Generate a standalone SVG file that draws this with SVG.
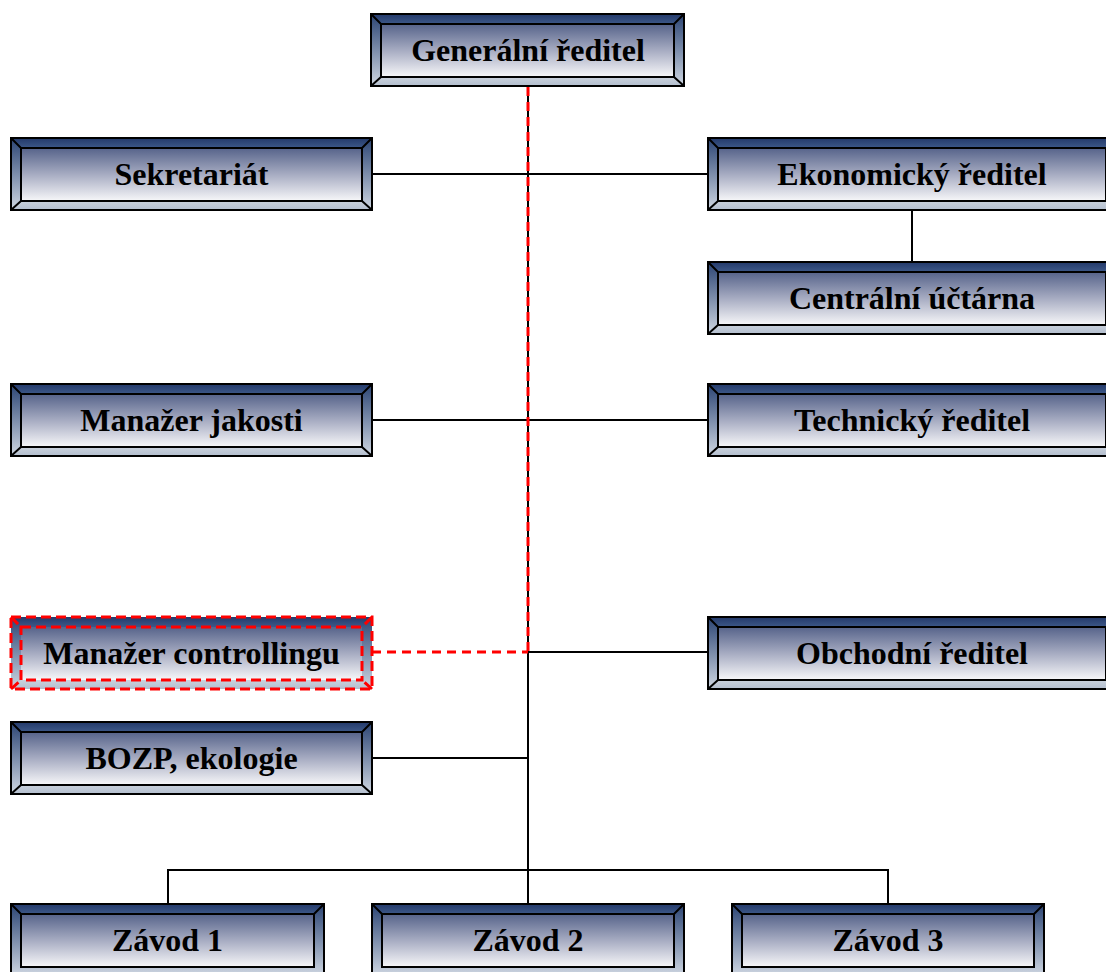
<svg xmlns="http://www.w3.org/2000/svg" width="1106" height="972" viewBox="0 0 1106 972">
  <defs>
    <linearGradient id="gRim" x1="0" y1="0" x2="0" y2="1">
      <stop offset="0" stop-color="#2b4473"/>
      <stop offset="0.55" stop-color="#8494b0"/>
      <stop offset="1" stop-color="#cfd7e2"/>
    </linearGradient>
    <linearGradient id="gTop" x1="0" y1="0" x2="0" y2="1">
      <stop offset="0" stop-color="#23396a"/>
      <stop offset="1" stop-color="#3d5888"/>
    </linearGradient>
    <linearGradient id="gBot" x1="0" y1="0" x2="0" y2="1">
      <stop offset="0" stop-color="#c9d1dc"/>
      <stop offset="1" stop-color="#b3bece"/>
    </linearGradient>
    <linearGradient id="gFace" x1="0" y1="0" x2="0" y2="1">
      <stop offset="0" stop-color="#56638a"/>
      <stop offset="0.5" stop-color="#a7acc2"/>
      <stop offset="1" stop-color="#f7f7f9"/>
    </linearGradient>
  </defs>
  <style>
    .rim { fill: url(#gRim); }
    .top { fill: url(#gTop); }
    .bot { fill: url(#gBot); }
    .face { fill: url(#gFace); }
    .edge { fill: none; stroke: #000; stroke-width: 2; }
    .edge-red { fill: none; stroke: #ff0000; stroke-width: 3; stroke-dasharray: 10 5; }
    .label { font-family: "Liberation Serif", "Times New Roman", serif; font-weight: bold; font-size: 32px; fill: #000; text-anchor: middle; }
    .wire { fill: none; stroke: #000; stroke-width: 2; }
    .wire-red { fill: none; stroke: #ff0000; stroke-width: 3; stroke-dasharray: 9 6; }
  </style>
  <rect width="1106" height="972" fill="#fff"/>

  <!-- connectors -->
  <g id="connectors">
    <line class="wire" x1="528" y1="86" x2="528" y2="870"/>
    <line class="wire" x1="372" y1="174" x2="708" y2="174"/>
    <line class="wire" x1="912" y1="211" x2="912" y2="262"/>
    <line class="wire" x1="372" y1="420" x2="708" y2="420"/>
    <line class="wire" x1="528" y1="652" x2="708" y2="652"/>
    <line class="wire" x1="372" y1="758" x2="528" y2="758"/>
    <polyline class="wire" points="168,904 168,870 888,870 888,904"/>
    <line class="wire" x1="528" y1="870" x2="528" y2="904"/>
    <line class="wire-red" x1="528" y1="87" x2="528" y2="652"/>
    <line class="wire-red" x1="372" y1="652" x2="528" y2="652"/>
  </g>

  <!-- Generální ředitel -->
  <g id="node-generalni">
    <rect class="rim" x="371" y="14" width="313" height="72"/>
    <polygon class="top" points="371,14 684,14 674,24 381,24"/>
    <polygon class="bot" points="371,86 684,86 674,77 381,77"/>
    <rect class="face" x="381" y="24" width="293" height="53"/>
    <rect class="edge" x="371" y="14" width="313" height="72"/>
    <rect class="edge" x="381" y="24" width="293" height="53"/>
    <path class="edge" d="M371,14 L381,24 M684,14 L674,24 M371,86 L381,77 M684,86 L674,77"/>
    <text class="label" x="528" y="61">Generální ředitel</text>
  </g>

  <!-- Sekretariát -->
  <g id="node-sekretariat">
    <rect class="rim" x="11" y="138" width="361" height="72"/>
    <polygon class="top" points="11,138 372,138 362,148 21,148"/>
    <polygon class="bot" points="11,210 372,210 362,201 21,201"/>
    <rect class="face" x="21" y="148" width="341" height="53"/>
    <rect class="edge" x="11" y="138" width="361" height="72"/>
    <rect class="edge" x="21" y="148" width="341" height="53"/>
    <path class="edge" d="M11,138 L21,148 M372,138 L362,148 M11,210 L21,201 M372,210 L362,201"/>
    <text class="label" x="191.5" y="185">Sekretariát</text>
  </g>

  <!-- Ekonomický ředitel -->
  <g id="node-ekonomicky">
    <rect class="rim" x="708" y="138" width="408" height="72"/>
    <polygon class="top" points="708,138 1116,138 1106,148 718,148"/>
    <polygon class="bot" points="708,210 1116,210 1106,201 718,201"/>
    <rect class="face" x="718" y="148" width="388" height="53"/>
    <rect class="edge" x="708" y="138" width="408" height="72"/>
    <rect class="edge" x="718" y="148" width="388" height="53"/>
    <path class="edge" d="M708,138 L718,148 M708,210 L718,201"/>
    <text class="label" x="912" y="185">Ekonomický ředitel</text>
  </g>

  <!-- Centrální účtárna -->
  <g id="node-uctarna">
    <rect class="rim" x="708" y="262" width="408" height="72"/>
    <polygon class="top" points="708,262 1116,262 1106,272 718,272"/>
    <polygon class="bot" points="708,334 1116,334 1106,325 718,325"/>
    <rect class="face" x="718" y="272" width="388" height="53"/>
    <rect class="edge" x="708" y="262" width="408" height="72"/>
    <rect class="edge" x="718" y="272" width="388" height="53"/>
    <path class="edge" d="M708,262 L718,272 M708,334 L718,325"/>
    <text class="label" x="912" y="309">Centrální účtárna</text>
  </g>

  <!-- Manažer jakosti -->
  <g id="node-jakost">
    <rect class="rim" x="11" y="384" width="361" height="72"/>
    <polygon class="top" points="11,384 372,384 362,394 21,394"/>
    <polygon class="bot" points="11,456 372,456 362,447 21,447"/>
    <rect class="face" x="21" y="394" width="341" height="53"/>
    <rect class="edge" x="11" y="384" width="361" height="72"/>
    <rect class="edge" x="21" y="394" width="341" height="53"/>
    <path class="edge" d="M11,384 L21,394 M372,384 L362,394 M11,456 L21,447 M372,456 L362,447"/>
    <text class="label" x="191.5" y="431">Manažer jakosti</text>
  </g>

  <!-- Technický ředitel -->
  <g id="node-technicky">
    <rect class="rim" x="708" y="384" width="408" height="72"/>
    <polygon class="top" points="708,384 1116,384 1106,394 718,394"/>
    <polygon class="bot" points="708,456 1116,456 1106,447 718,447"/>
    <rect class="face" x="718" y="394" width="388" height="53"/>
    <rect class="edge" x="708" y="384" width="408" height="72"/>
    <rect class="edge" x="718" y="394" width="388" height="53"/>
    <path class="edge" d="M708,384 L718,394 M708,456 L718,447"/>
    <text class="label" x="912" y="431">Technický ředitel</text>
  </g>

  <!-- Manažer controllingu (dashed red outline) -->
  <g id="node-controlling">
    <rect class="rim" x="11" y="617" width="361" height="72"/>
    <polygon class="top" points="11,617 372,617 362,627 21,627"/>
    <polygon class="bot" points="11,689 372,689 362,680 21,680"/>
    <rect class="face" x="21" y="627" width="341" height="53"/>
    <rect class="edge-red" x="11" y="617" width="361" height="72"/>
    <rect class="edge-red" x="21" y="627" width="341" height="53"/>
    <path class="edge-red" d="M11,617 L21,627 M372,617 L362,627 M11,689 L21,680 M372,689 L362,680"/>
    <text class="label" x="191.5" y="664">Manažer controllingu</text>
  </g>

  <!-- Obchodní ředitel -->
  <g id="node-obchodni">
    <rect class="rim" x="708" y="617" width="408" height="72"/>
    <polygon class="top" points="708,617 1116,617 1106,627 718,627"/>
    <polygon class="bot" points="708,689 1116,689 1106,680 718,680"/>
    <rect class="face" x="718" y="627" width="388" height="53"/>
    <rect class="edge" x="708" y="617" width="408" height="72"/>
    <rect class="edge" x="718" y="627" width="388" height="53"/>
    <path class="edge" d="M708,617 L718,627 M708,689 L718,680"/>
    <text class="label" x="912" y="664">Obchodní ředitel</text>
  </g>

  <!-- BOZP, ekologie -->
  <g id="node-bozp">
    <rect class="rim" x="11" y="722" width="361" height="72"/>
    <polygon class="top" points="11,722 372,722 362,732 21,732"/>
    <polygon class="bot" points="11,794 372,794 362,785 21,785"/>
    <rect class="face" x="21" y="732" width="341" height="53"/>
    <rect class="edge" x="11" y="722" width="361" height="72"/>
    <rect class="edge" x="21" y="732" width="341" height="53"/>
    <path class="edge" d="M11,722 L21,732 M372,722 L362,732 M11,794 L21,785 M372,794 L362,785"/>
    <text class="label" x="191.5" y="769">BOZP, ekologie</text>
  </g>

  <!-- Závod 1 -->
  <g id="node-zavod1">
    <rect class="rim" x="11" y="904" width="313" height="72"/>
    <polygon class="top" points="11,904 324,904 314,914 21,914"/>
    <rect class="face" x="21" y="914" width="293" height="53"/>
    <rect class="edge" x="11" y="904" width="313" height="72"/>
    <rect class="edge" x="21" y="914" width="293" height="53"/>
    <path class="edge" d="M11,904 L21,914 M324,904 L314,914"/>
    <text class="label" x="167.5" y="951">Závod 1</text>
  </g>

  <!-- Závod 2 -->
  <g id="node-zavod2">
    <rect class="rim" x="372" y="904" width="312" height="72"/>
    <polygon class="top" points="372,904 684,904 674,914 382,914"/>
    <rect class="face" x="382" y="914" width="292" height="53"/>
    <rect class="edge" x="372" y="904" width="312" height="72"/>
    <rect class="edge" x="382" y="914" width="292" height="53"/>
    <path class="edge" d="M372,904 L382,914 M684,904 L674,914"/>
    <text class="label" x="528" y="951">Závod 2</text>
  </g>

  <!-- Závod 3 -->
  <g id="node-zavod3">
    <rect class="rim" x="732" y="904" width="312" height="72"/>
    <polygon class="top" points="732,904 1044,904 1034,914 742,914"/>
    <rect class="face" x="742" y="914" width="292" height="53"/>
    <rect class="edge" x="732" y="904" width="312" height="72"/>
    <rect class="edge" x="742" y="914" width="292" height="53"/>
    <path class="edge" d="M732,904 L742,914 M1044,904 L1034,914"/>
    <text class="label" x="888" y="951">Závod 3</text>
  </g>
</svg>
